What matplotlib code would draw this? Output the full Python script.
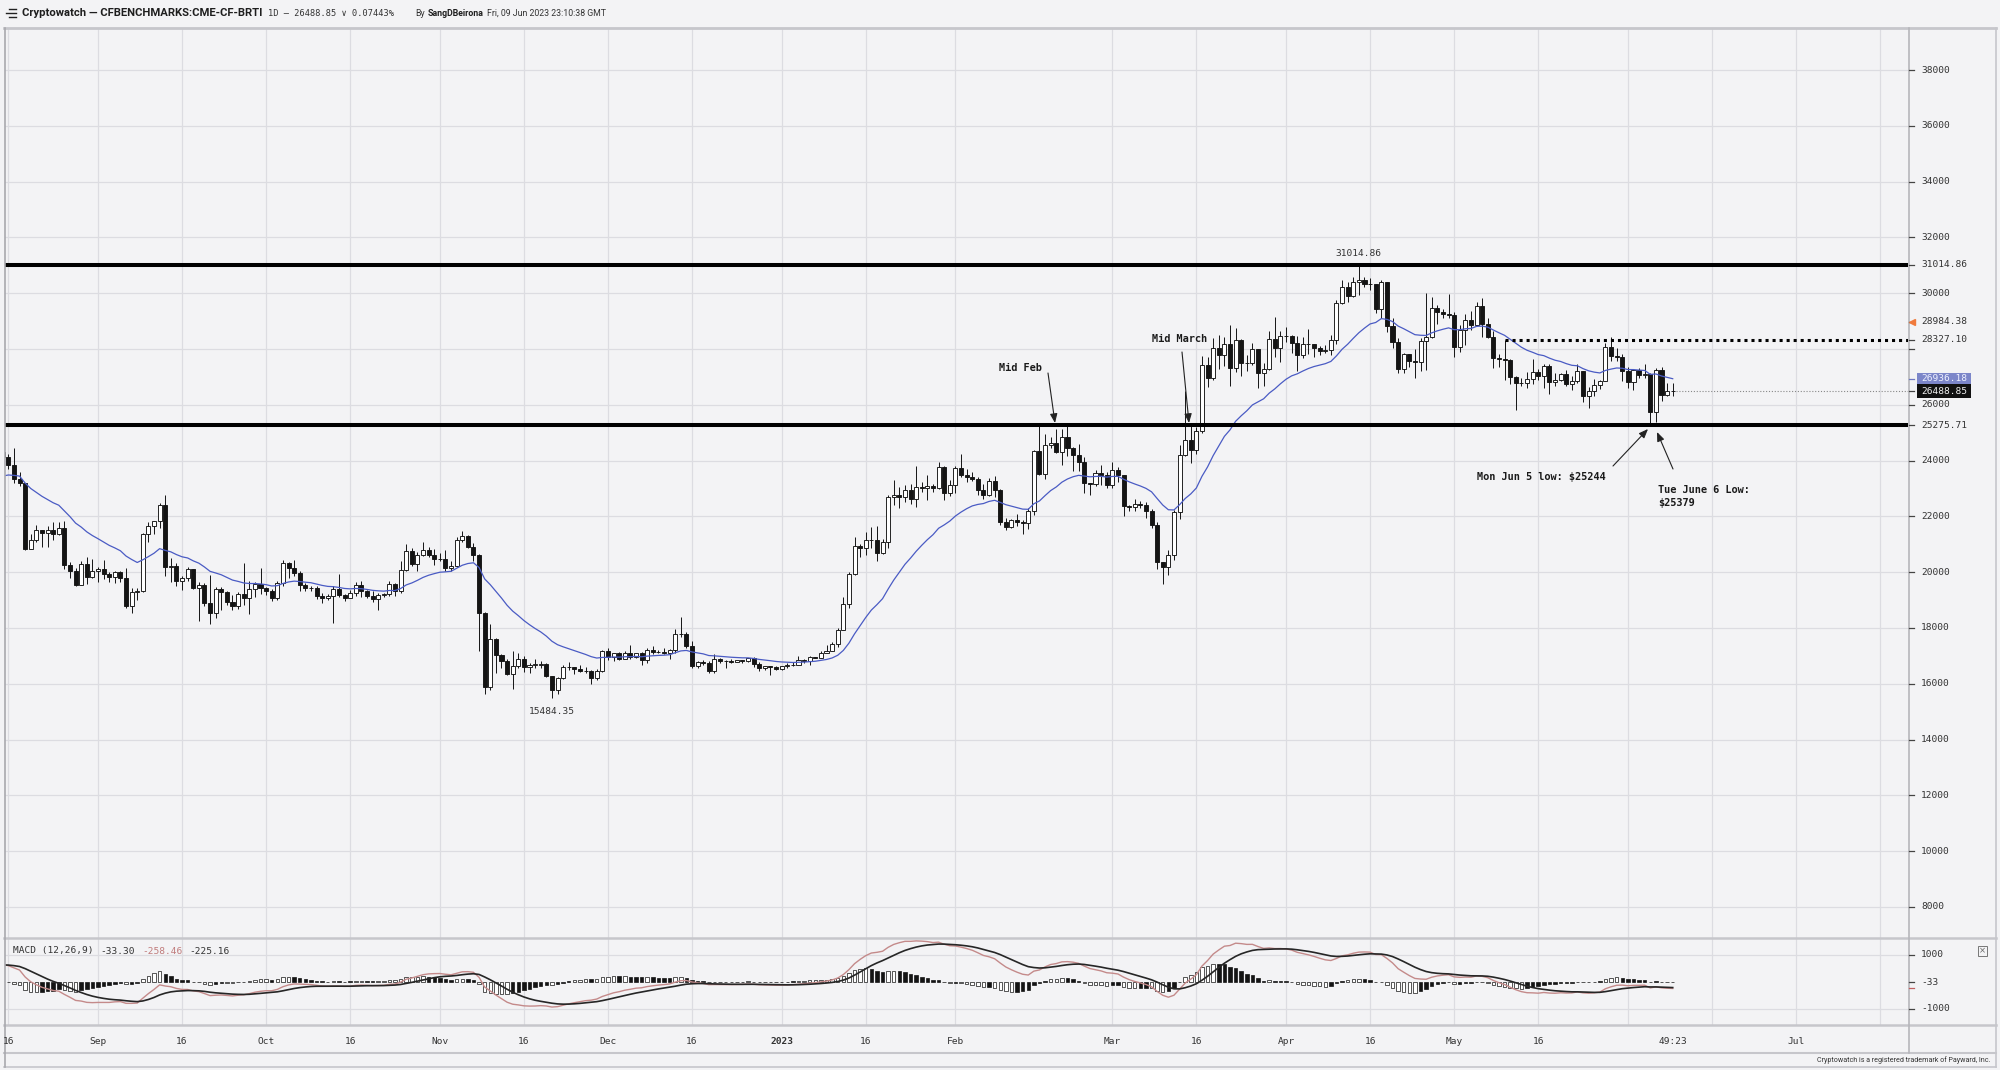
import matplotlib
matplotlib.use("Agg")
import matplotlib.pyplot as plt
import matplotlib.dates as mdates
import matplotlib.transforms as mtransforms
from matplotlib.lines import Line2D
from matplotlib.patches import Rectangle
import numpy as np
import pandas as pd

# ---- data: CF BRTI daily candles ----
start_date = "2022-08-15"

# Jul 1 - Aug 14 2022 closes, off-screen, only used to seed the MA / MACD
warmup_closes = [
    19270, 19240, 19300, 20230, 20190, 20550, 21630, 21590, 21590, 20850, 19970, 19330, 20210, 20570, 20830, 21190,
    20780, 22430, 23390, 23230, 23160, 22680, 22460, 22580, 21310, 21250, 22950, 23840, 23800, 23660, 23300,
    23270, 22980, 22820, 22630, 23310, 22960, 23180, 23810, 23160, 23950, 23950, 24400, 24440, 24310,
]

closes = [
    # Aug 15-31
    24130, 23860, 23340, 23200, 20830, 21140, 21520, 21400, 21530, 21370, 21570, 20260, 20040, 19550, 20280, 19810, 20050,
    # Sep
    20130, 19950, 19830, 20000, 19790, 18790, 19290, 19320, 21360, 21650, 21830, 22400, 20180, 20240, 19700,
    19800, 20110, 19420, 19540, 18880, 18550, 19410, 19300, 18930, 18800, 19220, 19080, 19410, 19590, 19430,
    # Oct
    19310, 19060, 19630, 20340, 20160, 19960, 19530, 19420, 19440, 19130, 19060, 19160, 19380, 19190, 19070, 19270,
    19550, 19330, 19130, 19040, 19170, 19210, 19570, 19330, 20090, 20770, 20290, 20600, 20810, 20630, 20490,
    # Nov
    20480, 20150, 20210, 21150, 21300, 20900, 20600, 18540, 15880, 17590, 17040, 16800, 16350, 16620, 16900,
    16600, 16690, 16690, 16700, 16280, 15780, 16220, 16600, 16600, 16520, 16460, 16440, 16220, 16440, 17160,
    # Dec
    16970, 17090, 16890, 17110, 16970, 17090, 16840, 17220, 17130, 17130, 17100, 17210, 17780, 17800, 17360, 16630,
    16780, 16740, 16440, 16900, 16820, 16830, 16780, 16840, 16830, 16920, 16700, 16550, 16630, 16600, 16540,
    # Jan 2023
    16620, 16680, 16680, 16850, 16830, 16950, 16940, 17120, 17190, 17440, 17940, 18850, 19930, 20950, 20880, 21170,
    21160, 20690, 21080, 22680, 22780, 22710, 22930, 22640, 23060, 23010, 23080, 23030, 23770, 22840, 23140,
    # Feb
    23730, 23490, 23430, 23330, 22940, 22760, 23260, 22960, 21800, 21630, 21860, 21790, 21780, 22200,
    24330, 23520, 24570, 24630, 24300, 24840, 24440, 24190, 23950, 23200, 23160, 23560, 23490, 23140,
    # Mar
    23650, 23470, 22360, 22350, 22430, 22410, 22200, 21700, 20360, 20190, 20630, 22160, 24200, 24750, 24380, 25050,
    27420, 26970, 28040, 27770, 28170, 27310, 28330, 27490, 27490, 27990, 27140, 27270, 28350, 28030, 28480,
    # Apr
    28460, 28200, 27800, 28170, 28170, 28040, 27920, 27950, 28330, 29650, 30240, 29890, 30400, 30490, 30320,
    30320, 29450, 30400, 28820, 28250, 27280, 27820, 27590, 27520, 28300, 28420, 29470, 29340, 29250, 29230,
    # May
    28090, 28680, 29030, 28850, 29530, 28900, 28450, 27690, 27650, 27620, 26990, 26800, 26780, 26930, 27180, 27030,
    27400, 26830, 26890, 27120, 26750, 26850, 27230, 26330, 26480, 26720, 26870, 28090, 27740, 27700, 27220,
    # Jun 1-9
    26820, 27250, 27070, 27120, 25760, 27240, 26350, 26500, 26488.85,
]

highs = [
    25200, 24250, 24450, 23600, 23200, 21380, 21700, 21520, 21650, 21800, 21800, 21850, 20350, 20150, 20400, 20540, 20470,
    20200, 20420, 20000, 20050, 20050, 20160, 19450, 19450, 21420, 21790, 21850, 22480, 22750, 20500, 20330,
    19880, 20170, 20110, 19650, 19620, 19900, 19470, 19480, 19310, 19180, 19300, 20340, 19690, 19650, 20160,
    19480, 19400, 19700, 20450, 20360, 20440, 20040, 19600, 19520, 19520, 19250, 19220, 19500, 19930, 19210, 19350,
    19650, 19700, 19360, 19330, 19240, 19250, 19690, 19600, 20400, 21000, 20850, 20740, 21070, 20920, 20820,
    20690, 20790, 20390, 21250, 21470, 21350, 21050, 20670, 18570, 18150, 17650, 17060, 16890, 17190, 17100,
    16990, 16750, 16880, 16800, 16750, 16290, 16260, 16680, 16780, 16610, 16680, 16600, 16480, 16530, 17200,
    17300, 17100, 17150, 17190, 17400, 17110, 17140, 17300, 17350, 17220, 17270, 17240, 17950, 18380, 17840, 17530,
    16800, 16860, 16810, 17050, 16910, 16860, 16890, 16860, 16870, 16940, 16960, 16780, 16650, 16640, 16640,
    16630, 16760, 16770, 16990, 16880, 16990, 16960, 17180, 17400, 17490, 17990, 19100, 19990, 21260, 21000, 21440,
    21620, 21640, 21190, 22750, 23300, 23060, 23140, 23150, 23800, 23240, 23480, 23160, 23940, 23810, 23300,
    23800, 24240, 23700, 23580, 23420, 23150, 23360, 23450, 22990, 21930, 21900, 22070, 21880, 22310,
    24370, 25250, 24950, 24860, 25140, 25120, 25250, 24480, 24600, 24120, 23210, 23680, 23860, 23600,
    23960, 23780, 23480, 22410, 22610, 22560, 22530, 22260, 21800, 20350, 20800, 22240, 24560, 26500, 25250, 25200,
    27740, 27720, 28400, 28520, 28450, 28860, 28760, 28370, 27800, 28200, 28000, 27490, 28640, 29160, 28660,
    28800, 28520, 28480, 28420, 28730, 28180, 28100, 28150, 28510, 29750, 30490, 30420, 30600, 31014.86, 30600,
    30550, 30310, 30470, 30400, 29100, 28380, 27870, 27820, 28000, 28390, 30020, 29870, 29580, 29430, 29960,
    29330, 28880, 29260, 29380, 29700, 29840, 29100, 28650, 27820, 28327.10, 27630, 27050, 26960, 27180, 27650, 27290,
    27470, 27480, 27140, 27150, 27260, 27050, 27480, 27220, 26630, 26930, 26900, 28200, 28450, 28030, 27840,
    27340, 27300, 27320, 27460, 27130, 27320, 27370, 26780, 26790,
]

lows = [
    23800, 23700, 23200, 23100, 20800, 20860, 21100, 20900, 20900, 21150, 21330, 20130, 19800, 19520, 19550, 19570, 19800,
    19650, 19760, 19650, 19620, 19640, 18700, 18540, 19020, 19300, 21090, 21360, 21580, 19870, 19640, 19520,
    19350, 19700, 19380, 18250, 18800, 18150, 18360, 18630, 18840, 18650, 18690, 18840, 18500, 19120, 19230,
    19180, 18960, 19000, 19520, 19800, 19880, 19340, 19330, 19340, 19030, 18880, 18990, 18190, 19100, 18980, 19060,
    19160, 19120, 19080, 18920, 18660, 19110, 19160, 19160, 19250, 20060, 20220, 20040, 20570, 20530, 20270,
    20400, 20060, 20050, 20180, 21080, 20880, 20390, 17170, 15650, 15790, 16400, 16550, 16300, 15820, 16550,
    16420, 16400, 16580, 16560, 16250, 15484.35, 15630, 16170, 16480, 16350, 16430, 16400, 16000, 16130, 16430,
    16870, 16800, 16870, 16880, 16900, 16920, 16680, 16740, 17080, 17090, 17070, 16880, 17090, 17660, 17280, 16580,
    16580, 16690, 16390, 16400, 16760, 16560, 16750, 16780, 16730, 16790, 16600, 16470, 16500, 16330, 16490,
    16500, 16560, 16620, 16660, 16760, 16680, 16910, 16910, 17110, 17160, 17310, 17910, 18720, 19900, 20560, 20610,
    20870, 20400, 20670, 20880, 22420, 22310, 22530, 22460, 22330, 22860, 22600, 22880, 23000, 22600, 22720,
    22840, 23400, 23220, 23260, 22750, 22630, 22730, 22700, 21690, 21500, 21600, 21650, 21370, 21540,
    22050, 23500, 23350, 24440, 24280, 23850, 24150, 23620, 23620, 22850, 22750, 23080, 23110, 23030,
    23020, 23230, 22000, 22180, 22200, 22300, 21950, 21600, 20100, 19570, 19900, 20430, 21900, 24150, 23930, 24220,
    25000, 26640, 26880, 27300, 27400, 26660, 27160, 27030, 27200, 27420, 26600, 26670, 27260, 27720, 27530,
    28260, 27870, 27230, 27690, 27820, 27730, 27790, 27870, 27800, 28170, 29620, 29700, 29870, 29940, 30230,
    30130, 29300, 29110, 28600, 28030, 27140, 27140, 27360, 26970, 27220, 27250, 28390, 28900, 29100, 29120,
    27700, 27900, 28150, 28700, 28820, 28420, 28400, 27330, 27370, 26880, 26740, 25830, 26690, 26600, 26750, 26880,
    26600, 26390, 26680, 26860, 26680, 26550, 26800, 26100, 25880, 26330, 26560, 26870, 27560, 27570, 26850,
    26620, 26520, 26960, 26970, 25244, 25379, 26130, 26330, 26300,
]

ma_period = 20
macd_fast, macd_slow, macd_signal = 12, 26, 9

level_top = 31014.86
level_bottom = 25275.71
level_dotted = 28327.10
level_dotted_from = "2023-05-10"
last_price = 26488.85
ma_last = 26936.18
alert_price = 28984.38
macd_values = ("-33.30", "-258.46", "-225.16")
macd_axis_value = -33
low_label = ("2022-11-21", 15484.35)
high_label = ("2023-04-14", 31014.86)

price_ticks = list(range(8000, 38001, 2000))
price_labels_hidden = [28000]
extra_price_labels = [31014.86, 28984.38, 28327.10, 25275.71]
macd_ticks = [1000, -1000]

date_ticks = ["2022-08-16", "2022-09-01", "2022-09-16", "2022-10-01", "2022-10-16", "2022-11-01",
              "2022-11-16", "2022-12-01", "2022-12-16", "2023-01-01", "2023-01-16", "2023-02-01",
              "2023-03-01", "2023-03-16", "2023-04-01", "2023-04-16", "2023-05-01", "2023-05-16",
              "2023-06-01", "2023-06-16", "2023-07-01", "2023-07-16"]
date_labels = ["16", "Sep", "16", "Oct", "16", "Nov", "16", "Dec", "16", "2023", "16", "Feb",
               "Mar", "16", "Apr", "16", "May", "16", "", "", "Jul", ""]

# ---- styling / layout (pixel based, 2000 x 1070) ----
W, H = 2000, 1070
BG = "#f3f3f5"
GRID = "#dcdce1"
FRAME = "#c6c6cb"
INK = "#141414"
TXT = "#333333"
MONO = ["DejaVu Sans Mono", "DejaVu Sans"]


def fx(px):
    return px / W


def fy(py):
    return 1 - py / H


# x scale: Sep 1 at 98 px, Jul 1 at 1796 px
sep1 = mdates.date2num(pd.Timestamp("2022-09-01"))
ppd = (1796 - 98) / 303.0


def px2x(px):
    return sep1 + (px - 98) / ppd


# main y scale: 38000 at 70.15 px, 8000 at 906.9 px
ppp = (906.9 - 70.15) / 30000.0


def py2y(py):
    return 38000 - (py - 70.15) / ppp


# macd y scale: 1000 at 954.5, -1000 at 1008.5
mpp = 54.0 / 2000.0
m_zero = 981.5


def py2m(py):
    return (m_zero - py) / mpp


n = min(len(closes), len(highs), len(lows))
dates = pd.date_range(start_date, periods=n, freq="D")
x = mdates.date2num(dates)
c = np.array(closes[:n], float)
o = np.concatenate([[warmup_closes[-1]], c[:-1]])
h = np.maximum(np.array(highs[:n], float), np.maximum(o, c))
l = np.minimum(np.array(lows[:n], float), np.minimum(o, c))

allc = pd.Series(np.concatenate([np.array(warmup_closes, float), c]))
nw = len(warmup_closes)
ma = allc.ewm(span=ma_period, adjust=False).mean().to_numpy()[nw:]
ema_f = allc.ewm(span=macd_fast, adjust=False).mean()
ema_s = allc.ewm(span=macd_slow, adjust=False).mean()
macd_all = ema_f - ema_s
sig_all = macd_all.ewm(span=macd_signal, adjust=False).mean()
macd = macd_all.to_numpy()[nw:]
sig = sig_all.to_numpy()[nw:]
hist_all = (macd_all - sig_all).to_numpy()
hist = hist_all[nw:]
hollow = np.abs(hist) >= np.abs(hist_all[nw - 1:-1])

fig = plt.figure(figsize=(20, 10.7), dpi=100, facecolor=BG)
ax = fig.add_axes([fx(5), fy(937.5), (1908 - 5) / W, (937.5 - 28) / H])
axm = fig.add_axes([fx(5), fy(1025), (1908 - 5) / W, (1025 - 937.5) / H])

xlim = (px2x(5), px2x(1908))
for a in (ax, axm):
    a.set_facecolor(BG)
    a.set_xlim(*xlim)
    for s in a.spines.values():
        s.set_visible(False)
    a.tick_params(length=0, labelleft=False, labelbottom=False)
    for d in date_ticks:
        a.axvline(mdates.date2num(pd.Timestamp(d)), color=GRID, lw=0.9, zorder=0)

ax.set_ylim(py2y(937.5), py2y(28))
axm.set_ylim(py2m(1025), py2m(937.5))
for p in price_ticks:
    ax.axhline(p, color=GRID, lw=0.9, zorder=0)
for p in macd_ticks:
    axm.axhline(p, color=GRID, lw=0.9, zorder=0)

# candles
up = c >= o
body_bot = np.minimum(o, c)
body_h = np.maximum(np.abs(c - o), 10)
ax.vlines(x, l, h, color=INK, lw=0.7, zorder=3)
ax.bar(x[up], body_h[up], bottom=body_bot[up], width=0.72, facecolor="white",
       edgecolor=INK, lw=0.65, zorder=4)
ax.bar(x[~up], body_h[~up], bottom=body_bot[~up], width=0.72, facecolor=INK,
       edgecolor=INK, lw=0.65, zorder=4)

# 20 period moving average
ax.plot(x, ma, color="#4a5bc4", lw=0.9, zorder=5)

# drawn levels
ax.axhline(level_top, color="black", lw=2.9, zorder=6)
ax.axhline(level_bottom, color="black", lw=2.9, zorder=6)
ax.plot([mdates.date2num(pd.Timestamp(level_dotted_from)), xlim[1]], [level_dotted, level_dotted],
        color="black", lw=2.2, dashes=(1, 1.3), zorder=6)
ax.plot([x[-1] + 0.6, xlim[1]], [last_price, last_price], color="#888888", lw=0.8,
        dashes=(1, 1.6), zorder=2)

# high / low labels
ax.annotate(f"{low_label[1]:.2f}", xy=(mdates.date2num(pd.Timestamp(low_label[0])), low_label[1]),
            xytext=(0, -9.5), textcoords="offset points", ha="center", va="center",
            fontsize=6.8, family=MONO, color=TXT)
ax.annotate(f"{high_label[1]:.2f}", xy=(mdates.date2num(pd.Timestamp(high_label[0])), high_label[1]),
            xytext=(0, 8), textcoords="offset points", ha="center", va="center",
            fontsize=6.8, family=MONO, color=TXT)

# annotations with arrows
ann_font = dict(fontsize=7.4, family=MONO, color="#1a1a1a", fontweight="bold", va="center", ha="left")
ax.text(px2x(999), py2y(368), "Mid Feb", **ann_font)
ax.text(px2x(1152), py2y(339), "Mid March", **ann_font)
ax.text(px2x(1477), py2y(477), "Mon Jun 5 low: $25244", **ann_font)
ax.text(px2x(1658), py2y(490), "Tue June 6 Low:", **ann_font)
ax.text(px2x(1658), py2y(503), "$25379", **ann_font)
arrows = [((1048, 373), (1055, 423)), ((1182, 352), (1189, 423)),
          ((1613, 466), (1648, 429)), ((1673, 469), (1657, 432))]
for (sx, sy), (tx, ty) in arrows:
    ax.annotate("", xy=(px2x(tx), py2y(ty)), xytext=(px2x(sx), py2y(sy)),
                arrowprops=dict(arrowstyle="-|>,head_length=0.55,head_width=0.22", color="#222",
                                lw=0.8, shrinkA=0, shrinkB=0), zorder=7)

# MACD panel
hist_face = np.where(hollow, "white", INK)
axm.bar(x, hist, width=0.62, color=hist_face, edgecolor=INK, lw=0.5, zorder=3)
axm.plot(x, macd, color="#c48a8a", lw=1.0, zorder=4)
axm.plot(x, sig, color="#262626", lw=1.2, zorder=5)


# ---- frame lines ----
def hline(py, x0, x1, color=FRAME, lw=2.0):
    fig.add_artist(Line2D([fx(x0), fx(x1)], [fy(py), fy(py)], color=color, lw=lw))


def vline(px, y0, y1, color=FRAME, lw=1.2):
    fig.add_artist(Line2D([fx(px), fx(px)], [fy(y0), fy(y1)], color=color, lw=lw))


hline(28, 4, 1996, lw=2.0)
hline(937.5, 4, 1996, lw=1.8)
hline(1025, 4, 1996, lw=1.8)
hline(1053, 4, 1996, lw=1.5)
hline(1067, 4, 1996, lw=1.2)
vline(5, 28, 1067, color="#a9a9ae")
vline(1908.5, 28, 1053, color="#b6b6bb")
vline(1996, 28, 1067, color=FRAME)

# ---- right price axis ----
bt = mtransforms.blended_transform_factory(fig.transFigure, ax.transData)
bm = mtransforms.blended_transform_factory(fig.transFigure, axm.transData)
lab_font = dict(fontsize=6.8, family=MONO, color=TXT, va="center", ha="left")


def tick(trans, val, color="#444444"):
    fig.add_artist(Line2D([fx(1909), fx(1914)], [val, val], transform=trans, color=color, lw=0.9))


for p in price_ticks:
    tick(bt, p)
    if p not in price_labels_hidden:
        fig.text(fx(1921), p, f"{p}", transform=bt, **lab_font)
for p in extra_price_labels:
    tick(bt, p)
    fig.text(fx(1921), p, f"{p:.2f}", transform=bt, **lab_font)
fig.add_artist(Line2D([fx(1912)], [alert_price], transform=bt, marker="<", ms=4.2,
                      color="#f07a3c", lw=0))

# badges for MA value and last price
ma_y = fy(70.15 + (38000 - ma_last) * ppp)
lp_y = fy(70.15 + (38000 - last_price) * ppp)
fig.add_artist(Rectangle((fx(1917), ma_y - 6.2 / H), 54 / W, 12.4 / H, transform=fig.transFigure,
                         facecolor="#7c86c9", edgecolor="none"))
fig.add_artist(Rectangle((fx(1917), lp_y - 6.8 / H), 54 / W, 13.6 / H, transform=fig.transFigure,
                         facecolor="#111111", edgecolor="none"))
tick(bt, ma_last, color="#6f79c0")
tick(bt, last_price)
fig.text(fx(1921), ma_y, f"{ma_last:.2f}", fontsize=6.8, family=MONO, color="#eef0ff",
         va="center", ha="left")
fig.text(fx(1921), lp_y, f"{last_price:.2f}", fontsize=6.8, family=MONO, color="#f0f0f0",
         va="center", ha="left")

# macd axis
for p in macd_ticks:
    tick(bm, p)
    fig.text(fx(1921), p, f"{p}", transform=bm, **lab_font)
tick(bm, macd_axis_value)
tick(bm, macd[-1], color="#c06060")
fig.text(fx(1921), macd_axis_value, f"{macd_axis_value}", transform=bm, **lab_font)

fig.add_artist(Rectangle((fx(1978), fy(956)), 9 / W, 10 / H, transform=fig.transFigure,
                         facecolor="none", edgecolor="#777777", lw=0.7))
fig.text(fx(1982.5), fy(951), "×", fontsize=6, color="#666666", ha="center", va="center")

mf = dict(fontsize=6.8, family=MONO, va="center", ha="left")
fig.text(fx(13), fy(951), "MACD (12,26,9)", color=TXT, **mf)
fig.text(fx(100), fy(951), macd_values[0], color=TXT, **mf)
fig.text(fx(142), fy(951), macd_values[1], color="#c07b7b", **mf)
fig.text(fx(189), fy(951), macd_values[2], color=TXT, **mf)

# ---- date axis ----
bd = mtransforms.blended_transform_factory(ax.transData, fig.transFigure)
for d, lab in zip(date_ticks, date_labels):
    if lab:
        fig.text(mdates.date2num(pd.Timestamp(d)), fy(1041), lab, transform=bd, fontsize=6.8,
                 family=MONO, color=TXT, ha="center", va="center",
                 fontweight="bold" if lab == "2023" else "normal")
fig.text(x[-1], fy(1041), "49:23", transform=bd, fontsize=6.8, family=MONO, color=TXT,
         ha="center", va="center")

# ---- header / footer ----
for (x0, x1, yy) in [(9, 16, 8.5), (6, 16, 12.5), (9, 16, 16.5)]:
    fig.add_artist(Line2D([fx(x0), fx(x1)], [fy(yy), fy(yy)], color="#222", lw=1.0))
fig.text(fx(22), fy(13), "Cryptowatch — CFBENCHMARKS:CME-CF-BRTI", fontsize=8.1, family="Roboto",
         fontweight="bold", color="#1e1e1e", va="center", ha="left")
fig.text(fx(268), fy(13), "1D — 26488.85 ∨ 0.07443%", fontsize=6.2, family=MONO, color=TXT,
         va="center", ha="left")
fig.text(fx(415), fy(13), "By", fontsize=6.3, family="Roboto", color=TXT, va="center", ha="left")
fig.text(fx(428), fy(13), "SangDBeirona", fontsize=6.3, family="Roboto", fontweight="bold",
         color="#1e1e1e", va="center", ha="left")
fig.text(fx(487), fy(13), "Fri, 09 Jun 2023 23:10:38 GMT", fontsize=6.3, family="Roboto",
         color=TXT, va="center", ha="left")
fig.text(fx(1990), fy(1060), "Cryptowatch is a registered trademark of Payward, Inc.", fontsize=5.1,
         family="Roboto", color=TXT, va="center", ha="right")

fig.savefig("out.png", dpi=100, facecolor=BG)
